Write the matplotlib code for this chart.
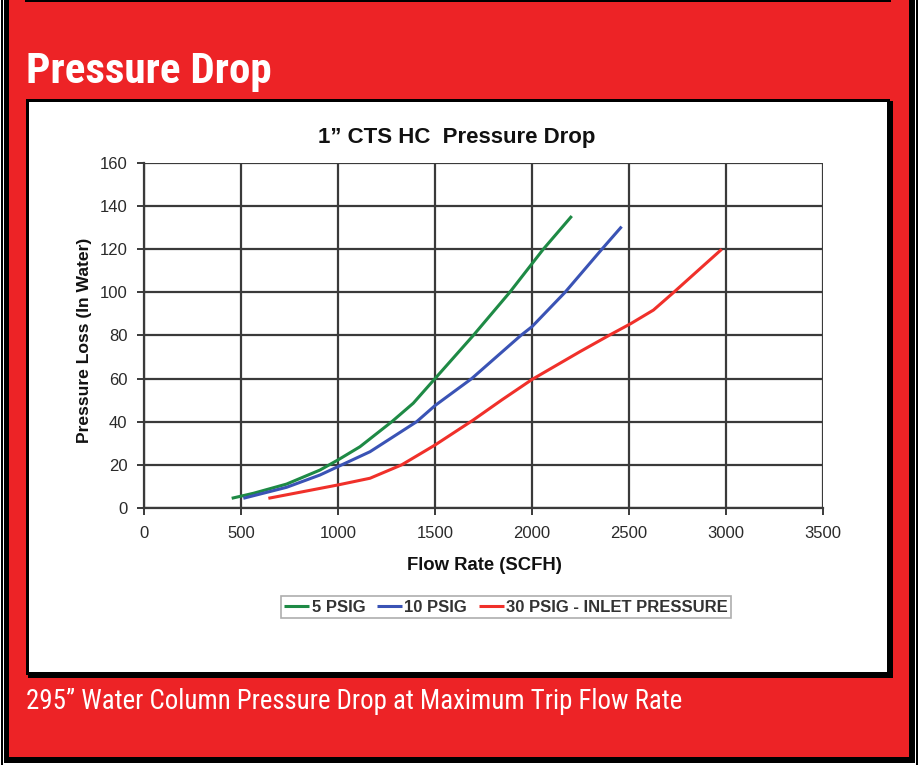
import matplotlib
matplotlib.use("Agg")
import matplotlib.pyplot as plt
from matplotlib.patches import Rectangle
from matplotlib import font_manager as fm

W, H = 919, 765
RED_BG = "#ED2326"

# ---------------- data ----------------
x_ticks = [0, 500, 1000, 1500, 2000, 2500, 3000, 3500]
y_ticks = [0, 20, 40, 60, 80, 100, 120, 140, 160]

flow_5 = [452, 563, 735, 907, 1000, 1113, 1277, 1388, 1500, 1697, 1885, 2058, 2205]
loss_5 = [4.5, 6.8, 11.1, 17.6, 22.3, 28.4, 40, 48.6, 60, 80, 100, 120, 135.4]

flow_10 = [512, 735, 907, 1000, 1165, 1405, 1500, 1689, 1942, 2000, 2170, 2360, 2462]
loss_10 = [4.5, 9.6, 15.3, 19.2, 26.1, 40, 47.5, 60, 80, 84.1, 100, 120, 130.5]

flow_30 = [641, 821, 1000, 1165, 1328, 1500, 1697, 1844, 2000, 2247, 2402, 2509, 2626, 2729, 2849, 2978]
loss_30 = [4.5, 7.6, 10.7, 13.8, 20, 29.2, 40.8, 50.1, 59.6, 72.5, 80.3, 85.5, 91.8, 99.9, 109.6, 120]

series_labels = ["5 PSIG", "10 PSIG", "30 PSIG - INLET PRESSURE"]
series_colors = ["#1E8A45", "#3A53B5", "#F0302A"]

# ---------------- fonts ----------------
names = {f.name for f in fm.fontManager.ttflist}
cond = "Roboto Condensed" if "Roboto Condensed" in names else "DejaVu Sans"
arial = "Liberation Sans" if "Liberation Sans" in names else "DejaVu Sans"

fig = plt.figure(figsize=(W / 100, H / 100), dpi=100)
fig.patch.set_facecolor("white")


def rect(x0, y0, x1, y1, **kw):
    """pixel coordinates (top-left origin) -> figure fraction rectangle"""
    r = Rectangle((x0 / W, 1 - y1 / H), (x1 - x0) / W, (y1 - y0) / H,
                  transform=fig.transFigure, **kw)
    fig.add_artist(r)
    return r


# outer frame
rect(0, 0, 919, 765, facecolor="white", edgecolor="none", zorder=0)
rect(1, 0, 918, 765, facecolor="black", edgecolor="none", zorder=0)
rect(3, 0, 916, 765, facecolor="white", edgecolor="none", zorder=0)
rect(4, 0, 915, 763, facecolor="black", edgecolor="none", zorder=0)
rect(9, 0, 909, 757, facecolor=RED_BG, edgecolor="none", zorder=0)
# top line of previous box
rect(25, 0, 891, 2, facecolor="black", edgecolor="none", zorder=1)

# white chart panel with shadow
rect(28, 101, 893, 678, facecolor="black", edgecolor="none", zorder=1)
rect(26, 99, 890, 675, facecolor="black", edgecolor="none", zorder=1)
rect(29, 102, 887, 672, facecolor="white", edgecolor="none", zorder=1)

# header and footer text
fig.text(26 / W, 1 - 83 / H, "Pressure Drop", color="white", fontsize=31,
         fontweight="bold", family=cond, ha="left", va="baseline", zorder=3)
fig.text(26 / W, 1 - 709 / H,
         "295\u201d Water Column Pressure Drop at Maximum Trip Flow Rate",
         color="white", fontsize=19.4, family=cond, ha="left", va="baseline", zorder=3)

# ---------------- chart ----------------
ax = fig.add_axes([144 / W, 1 - 508 / H, (823 - 144) / W, (508 - 163) / H])
ax.set_zorder(2)
ax.set_facecolor("white")
ax.set_xlim(x_ticks[0], x_ticks[-1])
ax.set_ylim(y_ticks[0], y_ticks[-1])
ax.set_xticks(x_ticks)
ax.set_yticks(y_ticks)
ax.grid(True, color="#3a3a3a", linewidth=1.6)
ax.set_axisbelow(True)
for s in ["top", "right"]:
    ax.spines[s].set_visible(False)
for s in ["left", "bottom"]:
    ax.spines[s].set_color("#3a3a3a")
    ax.spines[s].set_linewidth(1.6)
ax.tick_params(axis="both", colors="#3a3a3a", length=5, width=1.4,
               labelcolor="#2a2a2a", labelsize=12)
for lab in ax.get_xticklabels() + ax.get_yticklabels():
    lab.set_family(arial)
ax.tick_params(axis="x", pad=8)
ax.tick_params(axis="y", pad=7)

for xs, ys, lab, col in zip([flow_5, flow_10, flow_30], [loss_5, loss_10, loss_30],
                            series_labels, series_colors):
    ax.plot(xs, ys, color=col, linewidth=2.2, label=lab, solid_capstyle="butt",
            solid_joinstyle="round")

fig.text(457 / W, 1 - 137 / H, "1\u201d CTS HC  Pressure Drop", fontsize=16,
         fontweight="bold", family=arial, ha="center", va="center", color="#111111")
fig.text(484 / W, 1 - 565 / H, "Flow Rate (SCFH)", fontsize=13.3,
         fontweight="bold", family=arial, ha="center", va="center", color="#111111")
fig.text(85 / W, 1 - 340 / H, "Pressure Loss (In Water)", fontsize=12.6,
         fontweight="bold", family=arial, ha="center", va="center", rotation=90,
         color="#111111")

leg = fig.legend(loc="center", bbox_to_anchor=(506 / W, 1 - 607 / H), ncol=3,
                 frameon=True, fancybox=False, handlelength=1.5, handletextpad=0.15,
                 columnspacing=0.7, borderpad=0.2,
                 prop={"family": arial, "weight": "bold", "size": 12})
leg.get_frame().set_edgecolor("#999999")
leg.get_frame().set_linewidth(1.2)
for t in leg.get_texts():
    t.set_color("#333333")

fig.savefig("out.png", dpi=100)
